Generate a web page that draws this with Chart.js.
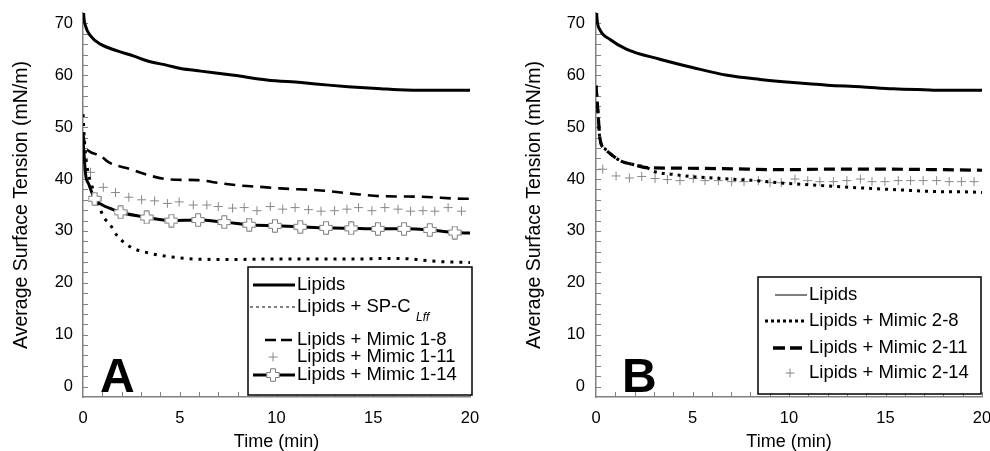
<!DOCTYPE html>
<html>
<head>
<meta charset="utf-8">
<script src="https://cdn.jsdelivr.net/npm/chart.js@4.4.1/dist/chart.umd.min.js"></script>
<style>
  html, body { margin: 0; padding: 0; background: #fff; }
  #wrap { position: relative; width: 990px; height: 451px; }
  canvas { position: absolute; top: 0; }
  #chartA { left: 0; }
  #chartB { left: 495px; }
</style>
</head>
<body>
<div id="wrap">
  <canvas id="chartA" width="495" height="451"></canvas>
  <canvas id="chartB" width="495" height="451"></canvas>
</div>
<script>
// ---- data (time in min, surface tension in mN/m) ----
const xTicks = [0, 5, 10, 15, 20];
const yTicks = [0, 10, 20, 30, 40, 50, 60, 70];
const xMinorTicks = [1, 2, 3, 4, 5, 6, 7, 8, 9, 10, 11, 12, 13, 14, 15, 16, 17, 18, 19, 20];
const yMinorTicks = [0, 2, 4, 6, 8, 10, 12, 14, 16, 18, 20, 22, 24, 26, 28, 30, 32, 34, 36,
                     38, 40, 42, 44, 46, 48, 50, 52, 54, 56, 58, 60, 62, 64, 66, 68, 70];

// Panel A
const lipidsA_t = [0, 0.04, 0.13, 0.39, 0.9, 1.77, 2.63, 3.3, 4.36, 5.05, 6.09, 7.8, 9.5, 11.27, 12.7, 13.7, 15.4, 16.3, 18, 20];
const lipidsA_v = [75, 71.5, 69.5, 67.6, 66.0, 64.7, 63.7, 62.8, 61.9, 61.3, 60.8, 60.0, 59.1, 58.6, 58.1, 57.8, 57.4, 57.2, 57.1, 57.1];

const spcA_t = [0, 0.1, 0.25, 0.39, 0.85, 1.08, 1.39, 1.74, 2.46, 3.33, 4.36, 5.74, 7.64, 10.06, 12, 14, 16, 17, 18, 20];
const spcA_v = [52.5, 46, 41.5, 39.5, 34.6, 32.6, 31.3, 29.2, 26.9, 25.8, 25.1, 24.6, 24.5, 24.6, 24.6, 24.6, 24.7, 24.6, 24.2, 23.9];

const mim18A_t = [0, 0.1, 0.3, 0.9, 1.34, 2.46, 3.33, 4.53, 5.9, 7.1, 8.0, 9.5, 10.2, 12.3, 13.86, 15.4, 17.5, 19.7, 20];
const mim18A_v = [49, 46.5, 45.4, 44.5, 43.2, 41.9, 40.8, 39.9, 39.8, 39.2, 38.8, 38.4, 38.2, 37.8, 37.2, 36.7, 36.6, 36.2, 36.2];

const mim111A_t = [0.39, 1.05, 1.68, 2.37, 3.03, 3.7, 4.36, 4.97, 5.7, 6.4, 6.99, 7.73, 8.33, 8.99, 9.68,
                   10.32, 10.96, 11.65, 12.3, 13.0, 13.64, 14.24, 14.93, 15.6, 16.28, 16.93, 17.57, 18.18, 18.87, 19.56];
const mim111A_v = [41.3, 38.4, 37.4, 36.5, 36.0, 35.8, 35.3, 35.6, 35.0, 35.0, 34.7, 34.4, 34.5, 33.9, 34.7,
                   34.2, 34.5, 34.1, 33.8, 33.9, 34.2, 34.5, 33.9, 34.5, 34.2, 33.8, 33.9, 33.8, 34.5, 33.8];

const mim114A_t = [0, 0.05, 0.13, 0.3, 0.6, 1.0, 1.5, 1.94, 3.29, 4.57, 5.95, 7.3, 8.59, 9.92, 11.23, 12.56, 13.86, 15.24, 16.59, 17.92, 19.21, 20];
const mim114A_v = [47.5, 45, 41, 39, 36.2, 35.0, 34.2, 33.6, 32.6, 32.0, 32.1, 31.7, 31.2, 31.0, 30.8, 30.6, 30.5, 30.4, 30.4, 30.2, 29.7, 29.6];
const mim114A_mark_t = [0.6, 1.94, 3.29, 4.57, 5.95, 7.3, 8.59, 9.92, 11.23, 12.56, 13.86, 15.24, 16.59, 17.92, 19.21];
const mim114A_mark_v = [36.2, 33.6, 32.6, 32.0, 32.1, 31.7, 31.2, 31.0, 30.8, 30.6, 30.5, 30.4, 30.4, 30.2, 29.7];

// Panel B
const lipidsB_t = [0, 0.05, 0.2, 0.73, 1.6, 3.3, 5.0, 6.8, 8.5, 10.2, 12.0, 13.7, 15.4, 17, 18, 20];
const lipidsB_v = [75, 71, 68.8, 66.9, 65.0, 63.1, 61.5, 60.0, 59.2, 58.6, 58.1, 57.8, 57.4, 57.2, 57.1, 57.1];

const mim28B_t = [0, 0.1, 0.2, 0.47, 0.98, 1.33, 1.93, 2.63, 2.97, 4.0, 4.87, 5.7, 6.94, 8.3, 9.7, 10.63, 13.2, 15.8, 17.56, 19.47, 20];
const mim28B_v = [58, 53, 47.7, 45.8, 44.2, 43.4, 42.8, 42.2, 41.5, 40.9, 40.5, 40.3, 40.0, 39.7, 39.2, 39.0, 38.4, 37.9, 37.6, 37.5, 37.4];

const mim211B_t = [0, 0.1, 0.21, 0.47, 0.98, 1.33, 1.93, 2.63, 4.0, 6.6, 9.7, 12, 15, 18, 20];
const mim211B_v = [58, 53, 47.7, 45.8, 44.2, 43.4, 42.8, 42.2, 42.1, 42.0, 41.8, 41.9, 41.9, 41.8, 41.7];

const mim214B_t = [0.35, 1.04, 1.73, 2.37, 3.06, 3.7, 4.35, 5.04, 5.65, 6.34, 7.03, 7.67, 8.41, 9.02, 9.6,
                   10.31, 10.97, 11.6, 12.3, 13.0, 13.7, 14.3, 14.97, 15.66, 16.3, 16.95, 17.65, 18.3, 18.94, 19.59];
const mim214B_v = [41.9, 40.6, 40.2, 40.5, 40.1, 39.9, 39.7, 40.1, 39.7, 39.7, 39.5, 39.5, 39.7, 39.3, 39.3,
                   40.0, 39.7, 39.5, 39.5, 39.7, 40.0, 39.5, 39.5, 39.7, 39.7, 39.7, 39.7, 39.5, 39.5, 39.5];

const legendA = ['Lipids', 'Lipids + SP-C', 'Lipids + Mimic 1-8', 'Lipids + Mimic 1-11', 'Lipids + Mimic 1-14'];
const legendB = ['Lipids', 'Lipids + Mimic 2-8', 'Lipids + Mimic 2-11', 'Lipids + Mimic 2-14'];

// ---- styling ----
const FONT = 'Arial, "Liberation Sans", sans-serif';
const AXIS = '#808080';
const GREY_MARK = '#888888';

function pts(t, v) {
    return t.map((x, i) => ({ x: x, y: v[i] }));
}

function plusImage(size, arm) {
    const c = document.createElement('canvas');
    c.width = size;
    c.height = size;
    const g = c.getContext('2d');
    const h = size / 2, a = arm / 2, r = h - 0.75;
    g.beginPath();
    g.moveTo(h - a, h - r); g.lineTo(h + a, h - r); g.lineTo(h + a, h - a);
    g.lineTo(h + r, h - a); g.lineTo(h + r, h + a); g.lineTo(h + a, h + a);
    g.lineTo(h + a, h + r); g.lineTo(h - a, h + r); g.lineTo(h - a, h + a);
    g.lineTo(h - r, h + a); g.lineTo(h - r, h - a); g.lineTo(h - a, h - a);
    g.closePath();
    g.fillStyle = '#fff';
    g.fill();
    g.strokeStyle = '#7a7a7a';
    g.lineWidth = 1;
    g.stroke();
    return c;
}
const whitePlus = plusImage(14, 5);

function lineSet(t, v, width, dash, order) {
    return {
        data: pts(t, v), showLine: true, pointRadius: 0, borderColor: '#000',
        borderWidth: width, borderDash: dash || [], cubicInterpolationMode: 'monotone',
        fill: false, order: order
    };
}

function greyPlusSet(t, v, order) {
    return {
        data: pts(t, v), showLine: false, pointStyle: 'cross', pointRadius: 4.5,
        borderColor: GREY_MARK, borderWidth: 1, order: order
    };
}

// inner minor/major ticks on both axes
const innerTicks = {
    id: 'innerTicks',
    beforeDatasetsDraw(chart) {
        const { ctx, chartArea: a, scales: { x, y } } = chart;
        ctx.save();
        ctx.strokeStyle = AXIS;
        ctx.lineWidth = 1;
        ctx.beginPath();
        yMinorTicks.forEach(v => {
            const py = Math.round(y.getPixelForValue(v)) + 0.5;
            ctx.moveTo(a.left, py);
            ctx.lineTo(a.left + 5, py);
        });
        xMinorTicks.forEach(v => {
            const px = Math.round(x.getPixelForValue(v)) + 0.5;
            ctx.moveTo(px, a.bottom);
            ctx.lineTo(px, a.bottom - 5);
        });
        ctx.stroke();
        ctx.restore();
    }
};

// boxed legend drawn inside the plot, plus the panel letter
const boxLegend = {
    id: 'boxLegend',
    afterDraw(chart, args, opts) {
        const ctx = chart.ctx;
        ctx.save();
        const b = opts.box;
        ctx.fillStyle = '#fff';
        ctx.fillRect(b[0], b[1], b[2], b[3]);
        ctx.strokeStyle = '#000';
        ctx.lineWidth = 1.5;
        ctx.strokeRect(b[0], b[1], b[2], b[3]);

        opts.items.forEach((it, i) => {
            if (it.line) {
                ctx.strokeStyle = '#000';
                ctx.lineWidth = it.line.width;
                ctx.setLineDash(it.line.dash || []);
                ctx.beginPath();
                ctx.moveTo(it.line.x0, it.y);
                ctx.lineTo(it.line.x1, it.y);
                ctx.stroke();
                ctx.setLineDash([]);
            }
            if (it.marker === 'plus') {
                ctx.strokeStyle = GREY_MARK;
                ctx.lineWidth = 1;
                ctx.beginPath();
                ctx.moveTo(it.mx - 4.5, it.y); ctx.lineTo(it.mx + 4.5, it.y);
                ctx.moveTo(it.mx, it.y - 4.5); ctx.lineTo(it.mx, it.y + 4.5);
                ctx.stroke();
            } else if (it.marker === 'whitePlus') {
                ctx.drawImage(whitePlus, it.mx - whitePlus.width / 2, it.y - whitePlus.height / 2);
            }
            ctx.fillStyle = '#000';
            ctx.font = '18.5px ' + FONT;
            ctx.textBaseline = 'middle';
            ctx.textAlign = 'left';
            ctx.fillText(opts.labels[i], opts.textX, it.y);
            if (it.sub) {
                ctx.font = 'italic 12px ' + FONT;
                ctx.fillText(it.sub, it.subX, it.y + 11);
            }
        });

        ctx.font = 'bold 48px ' + FONT;
        ctx.textBaseline = 'alphabetic';
        ctx.fillText(opts.letter, opts.letterX, 392);
        ctx.restore();
    }
};

function makeChart(id, datasets, lay, legendOpts) {
    return new Chart(document.getElementById(id), {
        type: 'scatter',
        data: { datasets: datasets },
        plugins: [innerTicks, boxLegend],
        options: {
            responsive: false,
            animation: false,
            layout: { padding: { top: 13, right: lay.padRight, left: 0, bottom: 0 } },
            plugins: {
                legend: { display: false },
                tooltip: { enabled: false },
                boxLegend: legendOpts
            },
            scales: {
                x: {
                    type: 'linear', min: 0, max: 20,
                    afterFit: s => { s.height = 54; s.paddingLeft = 0; s.paddingRight = 0; },
                    afterBuildTicks: s => { s.ticks = xTicks.map(v => ({ value: v })); },
                    grid: { display: false, drawTicks: false },
                    border: { color: AXIS, width: 1.5 },
                    ticks: { padding: 12, color: '#000', font: { family: FONT, size: 16.5 } },
                    title: { display: true, text: 'Time (min)', color: '#000', padding: { top: 0, bottom: -1.5 },
                             font: { family: FONT, size: 18 } }
                },
                y: {
                    type: 'linear', min: -2, max: 72,
                    afterFit: s => { s.width = lay.yWidth; s.paddingTop = 0; s.paddingBottom = 0; },
                    afterBuildTicks: s => { s.ticks = yTicks.map(v => ({ value: v })); },
                    grid: { display: false, drawTicks: false },
                    border: { color: AXIS, width: 1.5 },
                    ticks: { padding: lay.yPad, color: '#000', font: { family: FONT, size: 16.5 } },
                    title: { display: true, text: 'Average Surface Tension (mN/m)', color: '#000',
                             padding: { top: lay.titlePad, bottom: 0 }, font: { family: FONT, size: 19.5 } }
                }
            }
        }
    });
}

// Panel A
makeChart('chartA', [
    { data: pts(mim114A_mark_t, mim114A_mark_v), showLine: false, pointStyle: whitePlus, order: 0 },
    lineSet(mim114A_t, mim114A_v, 3, [], 1),
    lineSet(lipidsA_t, lipidsA_v, 3, [], 2),
    lineSet(spcA_t, spcA_v, 3, [3, 6], 3),
    lineSet(mim18A_t, mim18A_v, 2.6, [11, 7], 4),
    greyPlusSet(mim111A_t, mim111A_v, 5)
], { padRight: 25, yWidth: 83, yPad: 10, titlePad: 10 }, {
    box: [248, 267, 224, 128],
    textX: 297,
    labels: legendA,
    letter: 'A', letterX: 100,
    items: [
        { y: 285, line: { x0: 253, x1: 295, width: 3 } },
        { y: 307, line: { x0: 250, x1: 295, width: 1, dash: [3, 3] }, sub: 'Lff', subX: 416 },
        { y: 340, line: { x0: 265, x1: 292, width: 2.5, dash: [11, 5] } },
        { y: 357, marker: 'plus', mx: 273 },
        { y: 375, line: { x0: 253, x1: 295, width: 3 }, marker: 'whitePlus', mx: 273 }
    ]
});

// Panel B
makeChart('chartB', [
    lineSet(lipidsB_t, lipidsB_v, 3, [], 0),
    lineSet(mim211B_t, mim211B_v, 3.2, [11, 6], 1),
    lineSet(mim28B_t, mim28B_v, 3, [3, 5], 2),
    greyPlusSet(mim214B_t, mim214B_v, 3)
], { padRight: 8, yWidth: 101, yPad: 11, titlePad: 28 }, {
    box: [263, 277, 223, 117],
    textX: 314,
    labels: legendB,
    letter: 'B', letterX: 127,
    items: [
        { y: 295, line: { x0: 280, x1: 312, width: 1 } },
        { y: 321, line: { x0: 270, x1: 312, width: 3, dash: [3, 3] } },
        { y: 348, line: { x0: 278, x1: 312, width: 3.5, dash: [12, 5] } },
        { y: 373, marker: 'plus', mx: 295 }
    ]
});
</script>
</body>
</html>
